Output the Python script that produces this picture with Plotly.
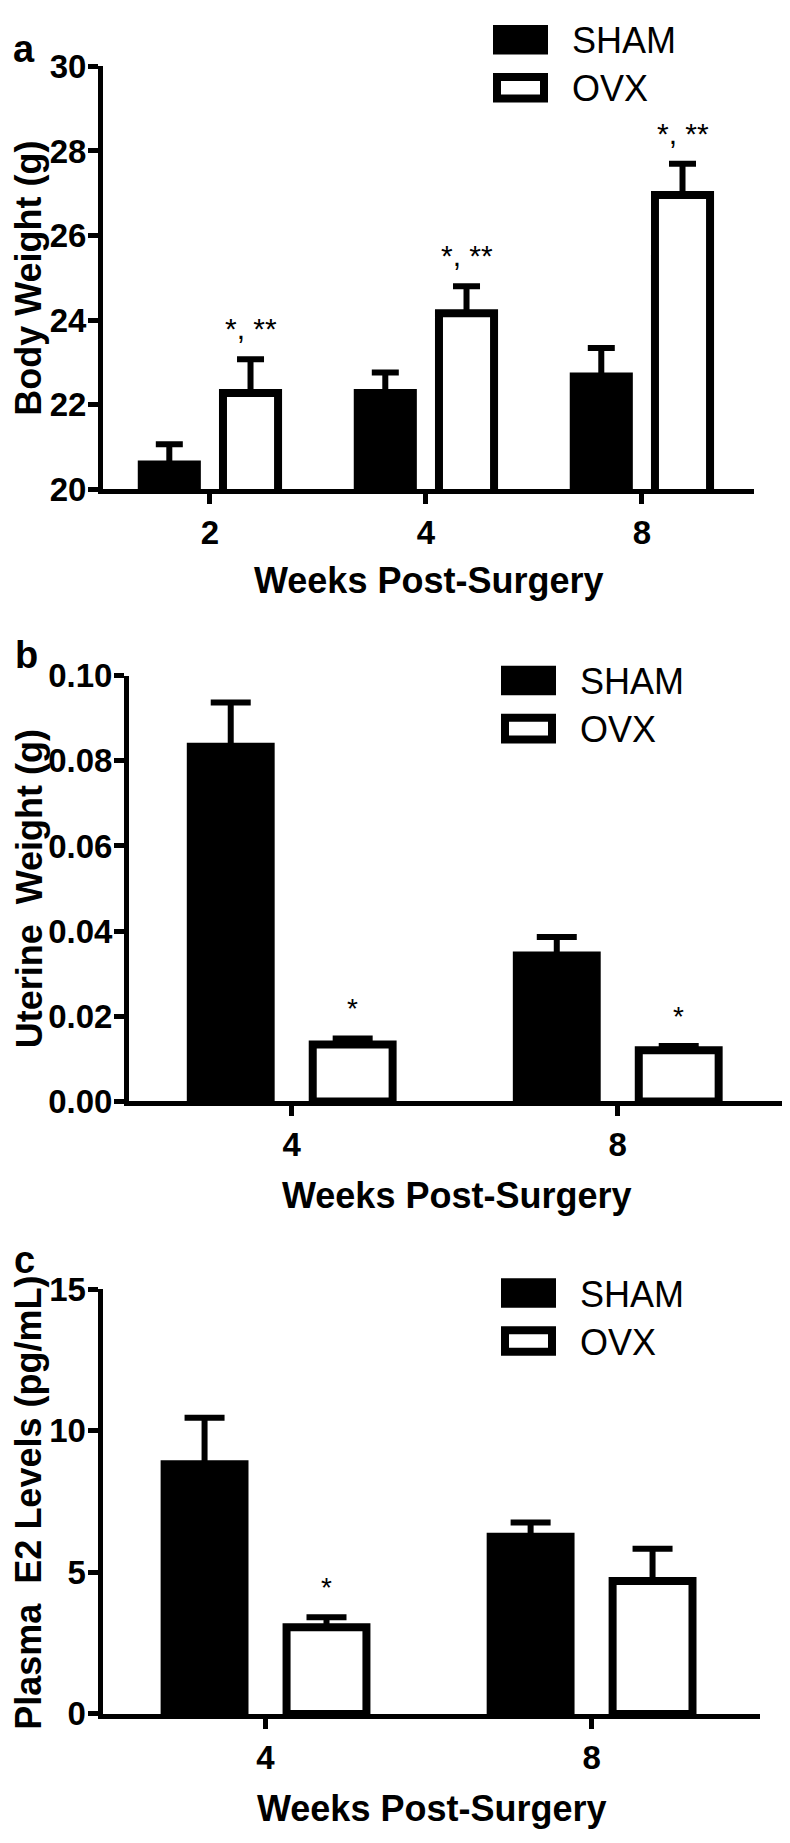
import plotly.graph_objects as go

W, H = 790, 1843
OFF = 8  # the page body adds an 8px margin; positions below are page pixels

# ---------------- data ----------------
series_names = ["SHAM", "OVX"]
panel_labels = ["a", "b", "c"]
x_title = "Weeks Post-Surgery"

# Panel a: body weight
weeks_a = ["2", "4", "8"]
sham_bw = [20.58, 22.27, 22.66]
sham_bw_err = [0.48, 0.49, 0.68]
ovx_bw = [22.27, 24.16, 26.96]
ovx_bw_err = [0.80, 0.64, 0.74]
ovx_bw_sig = ["*, **", "*, **", "*, **"]
ytitle_a = "Body Weight (g)"
yticks_a = [20, 22, 24, 26, 28, 30]

# Panel b: uterine weight
weeks_b = ["4", "8"]
sham_uw = [0.0833, 0.0343]
sham_uw_err = [0.0104, 0.0043]
ovx_uw = [0.0134, 0.0120]
ovx_uw_err = [0.0014, 0.0010]
ovx_uw_sig = ["*", "*"]
ytitle_b = "Uterine  Weight (g)"
yticks_b = [0.00, 0.02, 0.04, 0.06, 0.08, 0.10]

# Panel c: plasma E2
weeks_c = ["4", "8"]
sham_e2 = [8.82, 6.26]
sham_e2_err = [1.64, 0.50]
ovx_e2 = [3.06, 4.69]
ovx_e2_err = [0.35, 1.14]
ovx_e2_sig = ["*", ""]
ytitle_c = "Plasma  E2 Levels (pg/mL)"
yticks_c = [0, 5, 10, 15]

# ---------------- layout helpers ----------------
def px(x):
    return (x - OFF) / W

def py(y):
    return 1 - (y - OFF) / H

FONT = "Liberation Sans"
LW = 8  # bar outline

panels = [
    dict(weeks=weeks_a, sham=sham_bw, sham_err=sham_bw_err, ovx=ovx_bw, ovx_err=ovx_bw_err,
         sig=ovx_bw_sig, ytitle=ytitle_a, yticks=yticks_a, yfmt="d", yrange=[20, 30],
         xdom=(103, 754), ydom=(49.3, 480.5), xrange=[-0.495, 2.519], bw=0.255, off=0.188, ew=13.5,
         legend=(493, 7), label_xy=(24, 31), ytitle_xy=(29, 266), xtitle_xy=(429, 574), sigsize=30),
    dict(weeks=weeks_b, sham=sham_uw, sham_err=sham_uw_err, ovx=ovx_uw, ovx_err=ovx_uw_err,
         sig=ovx_uw_sig, ytitle=ytitle_b, yticks=yticks_b, yfmt=".2f", yrange=[0, 0.1],
         xdom=(129, 785), ydom=(671, 1105.5), xrange=[-0.499, 1.513], bw=0.245, off=0.187, ew=20,
         legend=(501, 661), label_xy=(26, 650), ytitle_xy=(29, 889), xtitle_xy=(456, 1201), sigsize=28),
    dict(weeks=weeks_c, sham=sham_e2, sham_err=sham_e2_err, ovx=ovx_e2, ovx_err=ovx_e2_err,
         sig=ovx_e2_sig, ytitle=ytitle_c, yticks=yticks_c, yfmt="d", yrange=[0, 15],
         xdom=(102.5, 759.5), ydom=(1297, 1730.5), xrange=[-0.5, 1.515], bw=0.245, off=0.187, ew=20,
         legend=(501, 1286), label_xy=(24, 1267), ytitle_xy=(29, 1515), xtitle_xy=(431, 1827), sigsize=28),
]

fig = go.Figure()
shapes = []
annotations = []
layout_axes = {}

for i, p in enumerate(panels):
    n = i + 1
    xa = "x" if n == 1 else f"x{n}"
    ya = "y" if n == 1 else f"y{n}"
    xkey = "xaxis" if n == 1 else f"xaxis{n}"
    ykey = "yaxis" if n == 1 else f"yaxis{n}"

    for s, (vals, errs, fill) in enumerate([(p["sham"], p["sham_err"], "black"),
                                            (p["ovx"], p["ovx_err"], "white")]):
        sign = -1 if s == 0 else 1
        fig.add_trace(go.Bar(
            x=p["weeks"], y=vals, name=series_names[s],
            width=p["bw"], offset=sign * p["off"] - p["bw"] / 2,
            marker=dict(color=fill, line=dict(color="black", width=LW)),
            error_y=dict(type="data", array=errs, arrayminus=[0] * len(errs), symmetric=False,
                         color="black", thickness=6, width=p["ew"]),
            xaxis=xa, yaxis=ya, showlegend=False,
        ))

    layout_axes[xkey] = dict(
        domain=[px(p["xdom"][0]), px(p["xdom"][1])], anchor=ya, type="category",
        range=p["xrange"], showline=True, linecolor="black", linewidth=5,
        ticks="outside", ticklen=10, tickwidth=5, tickcolor="black",
        showgrid=False, zeroline=False, fixedrange=True,
        tickfont=dict(family=FONT, size=33, color="black", weight="bold"),
    )
    layout_axes[ykey] = dict(
        domain=[py(p["ydom"][1]), py(p["ydom"][0])], anchor=xa,
        range=p["yrange"], tickvals=p["yticks"], tickformat=p["yfmt"],
        showline=True, linecolor="black", linewidth=5,
        ticks="outside", ticklen=10, tickwidth=5, tickcolor="black",
        ticklabelstandoff=-5,
        showgrid=False, zeroline=False, fixedrange=True,
        tickfont=dict(family=FONT, size=33, color="black", weight="bold"),
    )

    # significance marks above OVX bars
    for j, txt in enumerate(p["sig"]):
        if not txt:
            continue
        annotations.append(dict(
            x=j + p["off"], y=p["ovx"][j] + p["ovx_err"][j], xref=xa, yref=ya,
            text=txt, showarrow=False, yanchor="bottom", xanchor="center", yshift=12,
            font=dict(family=FONT, size=p["sigsize"], color="black"),
        ))

    # panel label
    annotations.append(dict(
        x=px(p["label_xy"][0]), y=py(p["label_xy"][1]), xref="paper", yref="paper",
        text=panel_labels[i], showarrow=False, xanchor="center", yanchor="middle",
        font=dict(family=FONT, size=38, color="black", weight="bold"),
    ))
    # y title
    annotations.append(dict(
        x=px(p["ytitle_xy"][0]), y=py(p["ytitle_xy"][1]), xref="paper", yref="paper",
        text=p["ytitle"], showarrow=False, textangle=-90, xanchor="center", yanchor="middle",
        borderpad=0,
        font=dict(family=FONT, size=36, color="black", weight="bold"),
    ))
    # x title
    annotations.append(dict(
        x=px(p["xtitle_xy"][0]), y=py(p["xtitle_xy"][1]), xref="paper", yref="paper",
        text=x_title, showarrow=False, xanchor="center", yanchor="middle",
        font=dict(family=FONT, size=36, color="black", weight="bold"),
    ))

    # legend (drawn boxes + labels)
    lx, ly = p["legend"]
    for s, fill in enumerate(["black", "white"]):
        top = ly + s * 49
        shapes.append(dict(
            type="rect", xref="paper", yref="paper",
            x0=px(lx + 4), x1=px(lx + 51), y0=py(top + 26), y1=py(top + 4),
            fillcolor=fill, line=dict(color="black", width=8),
        ))
        annotations.append(dict(
            x=px(lx + 77), y=py(top + 16), xref="paper", yref="paper",
            text=series_names[s], showarrow=False, xanchor="left", yanchor="middle",
            font=dict(family=FONT, size=36, color="black"),
        ))

fig.update_layout(
    width=W, height=H, margin=dict(l=0, r=0, t=0, b=0),
    paper_bgcolor="white", plot_bgcolor="white",
    barmode="overlay", showlegend=False,
    shapes=shapes, annotations=annotations,
    **layout_axes,
)

fig.write_html("out.html")
